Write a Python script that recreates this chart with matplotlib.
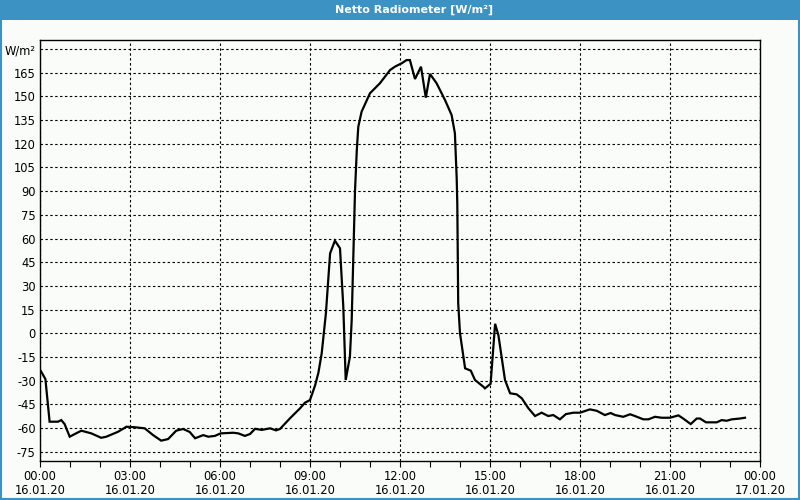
import matplotlib
matplotlib.use("Agg")
import matplotlib.pyplot as plt
import matplotlib.transforms as mtransforms
from matplotlib.patches import Rectangle

# hours since 16.01.20 00:00 and net radiation in W/m²
hours = [0.00, 0.18, 0.32, 0.60, 0.71, 0.82, 0.99, 1.16, 1.38, 1.71,
         2.04, 2.21, 2.60, 2.88, 3.16, 3.49, 3.77, 4.04, 4.27, 4.54,
         4.77, 4.99, 5.17, 5.44, 5.61, 5.83, 6.02, 6.44, 6.61, 6.83,
         7.00, 7.17, 7.39, 7.67, 7.87, 8.00, 8.33, 8.67, 8.83, 9.00,
         9.17, 9.28, 9.39, 9.53, 9.67, 9.83, 10.00, 10.11, 10.19, 10.33,
         10.39, 10.50, 10.56, 10.61, 10.72, 11.00, 11.33, 11.67, 11.83, 12.06,
         12.22, 12.33, 12.50, 12.70, 12.86, 13.00, 13.22, 13.50, 13.72, 13.83,
         13.89, 13.91, 13.94, 14.00, 14.17, 14.36, 14.50, 14.78, 14.83, 15.02,
         15.17, 15.28, 15.50, 15.67, 15.89, 16.06, 16.28, 16.50, 16.72, 16.94,
         17.11, 17.33, 17.53, 17.78, 18.00, 18.33, 18.56, 18.83, 19.02, 19.17,
         19.44, 19.67, 19.83, 20.11, 20.28, 20.50, 20.72, 21.00, 21.28, 21.44,
         21.69, 21.89, 22.00, 22.20, 22.56, 22.72, 22.89, 23.06, 23.33, 23.50]
values = [-23.0, -29.0, -56.0, -56.0, -55.0, -57.5, -65.5, -63.8, -61.7, -63.4,
          -66.2, -65.5, -62.4, -59.2, -59.5, -60.2, -64.5, -68.0, -67.0, -61.7,
          -60.6, -62.5, -66.5, -64.5, -65.5, -65.0, -63.4, -63.0, -63.4, -65.0,
          -63.8, -60.5, -61.2, -60.2, -61.5, -60.6, -53.9, -47.5, -44.0, -42.3,
          -33.0, -25.0, -12.7, 12.6, 50.6, 58.6, 53.8, 16.8, -29.6, -14.9,
          8.4, 90.0, 116.0, 130.8, 140.3, 152.0, 158.3, 166.7, 168.8, 171.0,
          173.0, 173.0, 161.0, 168.8, 149.2, 164.2, 158.3, 147.7, 138.2, 126.6,
          98.0, 82.0, 19.0, 0.0, -22.2, -23.7, -29.6, -33.9, -34.9, -32.0,
          6.0, -1.2, -29.6, -38.0, -38.7, -41.2, -47.5, -52.4, -50.3, -52.4,
          -51.8, -54.5, -51.2, -50.3, -50.3, -48.2, -49.1, -51.8, -50.5, -51.8,
          -52.9, -51.3, -52.4, -54.5, -54.5, -52.9, -53.5, -53.5, -52.0, -54.0,
          -57.5, -54.0, -54.0, -56.4, -56.4, -55.0, -55.4, -54.5, -54.0, -53.5]

y_ticks = [-75, -60, -45, -30, -15, 0, 15, 30, 45, 60, 75, 90, 105, 120, 135, 150, 165, 180]
y_labels = [str(v) for v in y_ticks[:-1]] + ["W/m²"]
x_ticks = [0, 3, 6, 9, 12, 15, 18, 21, 24]
x_times = ["00:00", "03:00", "06:00", "09:00", "12:00", "15:00", "18:00", "21:00", "00:00"]
x_dates = ["16.01.20"] * 8 + ["17.01.20"]

bg = "#FAFCFA"
blue = "#3D92C4"

fig = plt.figure(figsize=(8, 5), dpi=100, facecolor=bg)

# title bar and border
fig.patches.append(Rectangle((0, 1 - 20 / 500), 1, 20 / 500, transform=fig.transFigure,
                             facecolor=blue, edgecolor="none", zorder=0))
fig.patches.append(Rectangle((0.6 / 800, 0.6 / 500), 1 - 1.2 / 800, 1 - 1.2 / 500,
                             transform=fig.transFigure, facecolor="none",
                             edgecolor=blue, linewidth=1.5, zorder=1))
fig.text(414 / 800, 1 - 10 / 500, "Netto Radiometer [W/m²]", color="white",
         fontsize=8, fontweight="bold", ha="center", va="center")

ax = fig.add_axes([40 / 800, 39.3 / 500, 720 / 800, 420.7 / 500])
ax.set_facecolor(bg)
ax.plot(hours, values, color="black", linewidth=1.6, solid_joinstyle="miter")

ax.set_xlim(0, 24)
ax.set_ylim(-80.7, 185.7)

ax.set_yticks(y_ticks)
ax.set_yticklabels(y_labels)
ax.set_xticks(x_ticks)
ax.set_xticklabels(x_times)
ax.set_xticks(range(0, 25), minor=True)

# second line of the x labels (date)
trans = mtransforms.blended_transform_factory(ax.transData, ax.transAxes)
for xt, d in zip(x_ticks, x_dates):
    ax.text(xt, -0.0705, d, transform=trans, ha="center", va="center",
            fontsize=8.3, clip_on=False)

ax.tick_params(axis="y", length=0, pad=3, labelsize=8.3, colors="black")
ax.tick_params(axis="x", which="both", direction="out", length=4, width=0.8,
               pad=2.5, labelsize=8.3)

ax.grid(True, which="major", color="black", linestyle=(0, (2.2, 2.2)), linewidth=0.8)
ax.set_axisbelow(True)
for sp in ax.spines.values():
    sp.set_linewidth(1)
    sp.set_color("black")

fig.savefig("out.png", dpi=100, facecolor=bg)
